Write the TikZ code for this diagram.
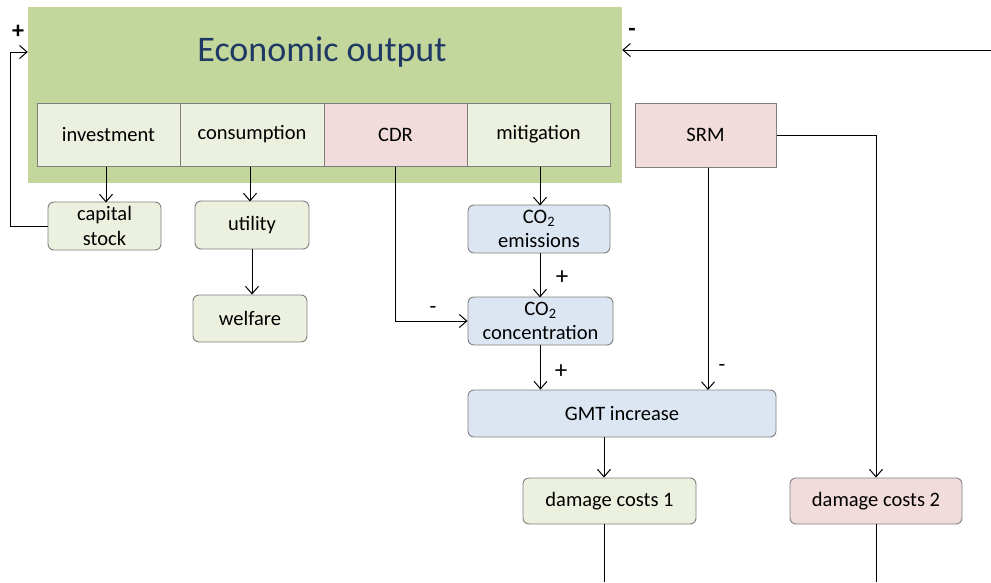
\documentclass[tikz,border=0pt]{standalone}
\usepackage{fontspec}
\setmainfont{Carlito}
\usetikzlibrary{arrows.meta}
\definecolor{biggreen}{HTML}{C3D69B}
\definecolor{lgreen}{HTML}{EBF1DE}
\definecolor{lpink}{HTML}{F2DCDB}
\definecolor{lblue}{HTML}{DCE6F2}
\definecolor{boxgray}{HTML}{7F7F7F}
\definecolor{titleblue}{HTML}{1F3864}
\begin{document}
\begin{tikzpicture}[x=1pt,y=-1pt,
  txt/.style={font=\fontsize{20.5}{24.5}\selectfont, align=center, text=black},
  subbox/.style={txt, draw=boxgray, line width=1pt, minimum height=63pt, inner sep=0pt},
  rbox/.style={txt, draw=boxgray, line width=0.9pt, rounded corners=6pt, minimum height=48pt, inner sep=0pt},
  gfill/.style={fill=lgreen},
  pfill/.style={fill=lpink},
  bfill/.style={fill=lblue},
  arr/.style={-{Straight Barb[length=7.5pt,width=13pt]}, line width=1pt},
  con/.style={line width=1pt},
  sign/.style={font=\fontsize{22}{24}\selectfont},
  psign/.style={font=\fontsize{25}{27}\selectfont},
  bsign/.style={font=\bfseries\fontsize{24}{26}\selectfont}
]
\useasboundingbox (0,0) rectangle (991,582);

% big green box
\node (econ) [fill=biggreen, minimum width=594pt, minimum height=176pt, inner sep=0pt] at (325,95) {};
\node (title) [font=\fontsize{36}{40}\selectfont, text=titleblue] at (322,52) {Economic output};

% sub boxes
\node (invest) [subbox, gfill, minimum width=143pt] at (108.5,134.5) {investment};
\node (consum) [subbox, gfill, minimum width=144pt] at (252,134.5) {consumption};
\node (cdr)    [subbox, pfill, minimum width=143pt] at (395.5,134.5) {CDR};
\node (mitig)  [subbox, gfill, minimum width=143pt] at (538.5,134.5) {mitigation};
\node (srm)    [subbox, pfill, minimum width=141pt, minimum height=64pt] at (705.5,135) {SRM};

% rounded boxes
\node (capital) [rbox, gfill, minimum width=113pt] at (104.5,226) {capital\\stock};
\node (utility) [rbox, gfill, minimum width=114pt] at (252,225) {utility};
\node (welfare) [rbox, gfill, minimum width=114pt, minimum height=47pt] at (250,318.5) {welfare};
\node (emis)    [rbox, bfill, minimum width=142pt] at (539,229) {CO\textsubscript{2}\\emissions};
\node (conc)    [rbox, bfill, minimum width=145pt] at (540.5,321) {CO\textsubscript{2}\\concentration};
\node (gmt)     [rbox, bfill, minimum width=308pt, minimum height=47pt] at (622,413.5) {GMT increase};
\node (dc1)     [rbox, gfill, minimum width=173pt, minimum height=46pt] at (609.5,501) {damage costs 1};
\node (dc2)     [rbox, pfill, minimum width=172pt, minimum height=46pt] at (876,501) {damage costs 2};

% coordinates for free ends
\coordinate (rightin) at (991,50);
\coordinate (loopc) at (10,52);
\coordinate (b1) at (604,582);
\coordinate (b2) at (876,582);

% connectors
\draw[arr] (capital.north |- invest.south) ++(1.5,0) -- ++(0,36);
\draw[arr] (consum.south) ++(-2,0) -- ++(0,35);
\draw[arr] (utility.south) -- (utility.south |- welfare.north);
\draw[arr] (mitig.south) ++(1.5,0) -- ++(0,39);
\draw[arr] (emis.south) ++(1,0) -- ++(0,44);
\draw[arr] (conc.south) -- (conc.south |- gmt.north);
\draw[arr] (cdr.south) |- (conc.west);
\draw[arr] (srm.south) ++(2.5,0) -- ++(0,222.5);
\draw[arr] (srm.east) -| (dc2.north);
\draw[arr] (b1 |- gmt.south) -- (b1 |- dc1.north);
\draw[con] (b1 |- dc1.south) -- (b1);
\draw[con] (dc2.south) -- (b2);
\draw[arr] (rightin) -- (econ.east |- rightin);
\draw[arr] (capital.west) -| (loopc) -- (econ.west |- loopc);

% signs
\node[bsign] (s1) at (18,32) {+};
\node[bsign] (s2) at (632,32) {-};
\node[psign] (s3) at (562,278) {+};
\node[psign] (s4) at (561,372) {+};
\node[sign] (s5) at (433,310) {-};
\node[sign] (s6) at (722,368) {-};
\end{tikzpicture}
\end{document}
